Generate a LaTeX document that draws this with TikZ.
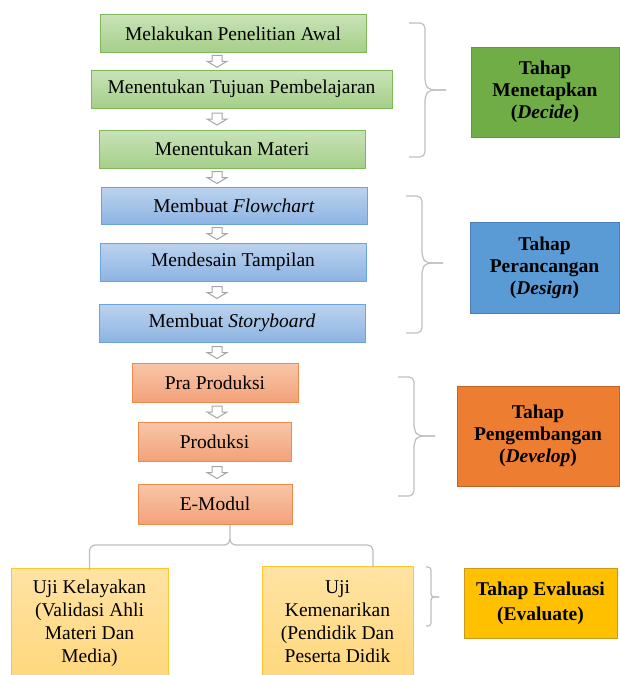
\documentclass[tikz,border=0pt]{standalone}
\usepackage{fontspec}
\setmainfont{Liberation Serif}
\begin{document}
\begin{tikzpicture}[x=1pt,y=-1pt,
  txt/.style={font=\fontsize{19.5}{23}\selectfont},
  stepbox/.style={txt, draw, line width=1pt, inner sep=0pt, minimum height=38pt},
  gbox/.style={stepbox, draw=grnB, top color=grnT, bottom color=grnD},
  bbox/.style={stepbox, draw=bluB, top color=bluT, bottom color=bluD},
  obox/.style={stepbox, draw=orgB, top color=orgT, bottom color=orgD},
  ybox/.style={draw=yelB, line width=1pt, top color=yelT, bottom color=yelD, inner sep=0pt},
  phase/.style={font=\fontsize{19.5}{22}\selectfont\bfseries, align=center, line width=1pt, inner sep=0pt},
  brace/.style={draw=braceC, line width=1.2pt, rounded corners=5pt},
  harr/.pic={\draw[arrC, fill=white, line width=1pt, line join=miter]
     (-5,-6) -- (5,-6) -- (5,0) -- (10,0) -- (0,6) -- (-10,0) -- (-5,0) -- cycle;}
]
\definecolor{grnB}{HTML}{7FB85A}
\definecolor{grnT}{HTML}{C9E3B8}
\definecolor{grnD}{HTML}{A5CF89}
\definecolor{bluB}{HTML}{6BA3DB}
\definecolor{bluT}{HTML}{BCD3EE}
\definecolor{bluD}{HTML}{8DB4E2}
\definecolor{orgB}{HTML}{EE8A4A}
\definecolor{orgT}{HTML}{F8C6A8}
\definecolor{orgD}{HTML}{F3A27A}
\definecolor{yelB}{HTML}{FFC62E}
\definecolor{yelT}{HTML}{FFE3A3}
\definecolor{yelD}{HTML}{FFD77A}
\definecolor{braceC}{HTML}{BFBFBF}
\definecolor{arrC}{HTML}{A6A6A6}
\definecolor{lineC}{HTML}{BDBDBD}
\definecolor{decF}{HTML}{70AD47}
\definecolor{decB}{HTML}{5E9A3A}
\definecolor{desF}{HTML}{5B9BD5}
\definecolor{desB}{HTML}{4A7FB5}
\definecolor{devF}{HTML}{ED7D31}
\definecolor{devB}{HTML}{C0622A}
\definecolor{evaF}{HTML}{FFC000}
\definecolor{evaB}{HTML}{C99A1A}

\useasboundingbox (0,0) rectangle (620,675);

% step boxes
\node[gbox, minimum width=266pt] (g1) at (233,33.5) {Melakukan Penelitian Awal};
\node[gbox, minimum width=301pt] (g2) at (241.5,89) {Menentukan Tujuan Pembelajaran};
\node[gbox, minimum width=266pt] (g3) at (232,149) {Menentukan Materi};
\node[bbox, minimum width=266pt, minimum height=37pt] (b1) at (234,205.5) {Membuat \textit{Flowchart}};
\node[bbox, minimum width=266pt] (b2) at (233,262) {Mendesain Tampilan};
\node[bbox, minimum width=266pt] (b3) at (232,323) {Membuat \textit{Storyboard}};
\node[obox, minimum width=166pt, minimum height=39pt] (o1) at (215,382.5) {Pra Produksi};
\node[obox, minimum width=153pt, minimum height=39pt] (o2) at (214.5,441.5) {Produksi};
\node[obox, minimum width=154pt, minimum height=40pt] (o3) at (215,504) {E-Modul};

% evaluation boxes (running off the bottom edge)
\node[ybox, minimum width=157pt, minimum height=120pt, anchor=north] (uk) at (89.5,568) {};
\node[ybox, minimum width=151pt, minimum height=122pt, anchor=north] (um) at (337.5,566) {};
\node[txt, align=center, anchor=north, inner sep=0pt] (ukt) at ([yshift=-12pt]uk.north)
  {Uji Kelayakan\\(Validasi Ahli\\Materi Dan\\Media)};
\node[txt, align=center, anchor=north, inner sep=0pt] (umt) at ([yshift=-14pt]um.north)
  {Uji\\Kemenarikan\\(Pendidik Dan\\Peserta Didik};

% hollow arrows
\coordinate (ax) at (217,0);
\foreach \a/\b in {g1/g2,g2/g3,g3/b1,b1/b2,b2/b3,b3/o1,o1/o2,o2/o3}{
  \path (\a.south) -- (\b.north) coordinate[midway] (m\a);
  \pic at (ax |- m\a) {harr};
}

% split connector
\draw[draw=lineC, line width=1.2pt, rounded corners=6pt]
  ([xshift=15pt]o3.south) -- ([xshift=15pt]o3.south |- 0,545) -- (uk.north |- 0,545) -- ([yshift=-2pt]uk.north);
\draw[draw=lineC, line width=1.2pt, rounded corners=6pt]
  ([xshift=15pt]o3.south |- 0,540) -- ([xshift=15pt]o3.south |- 0,545) -- ([xshift=35.5pt]um.north |- 0,545) -- ([xshift=35.5pt,yshift=-1pt]um.north);

% phase labels
\node[phase, draw=decB, fill=decF, minimum width=148pt, minimum height=90pt] (pd) at (545,92)
  {Tahap\\Menetapkan\\(\textit{Decide})};
\node[phase, draw=desB, fill=desF, minimum width=149pt, minimum height=91pt] (ps) at (544.5,267.5)
  {Tahap\\Perancangan\\(\textit{Design})};
\node[phase, draw=devB, fill=devF, minimum width=162pt, minimum height=100pt] (pv) at (538,436)
  {Tahap\\Pengembangan\\(\textit{Develop})};
\node[phase, draw=evaB, fill=evaF, minimum width=153pt, minimum height=70pt, font=\fontsize{19.5}{25}\selectfont\bfseries] (pe) at (540.5,603)
  {Tahap Evaluasi\\(Evaluate)};

% braces
\draw[brace] (409,23) -- (425,23) -- (425,84) -- (429,90) -- (446,90);
\draw[brace] (446,90) -- (429,90) -- (425,96) -- (425,157) -- (409,157);
\draw[brace] (406,196) -- (422,196) -- (422,257) -- (426,263) -- (443,263);
\draw[brace] (443,263) -- (426,263) -- (422,269) -- (422,333) -- (406,333);
\draw[brace] (398,377) -- (414,377) -- (414,430) -- (418,436) -- (435,436);
\draw[brace] (435,436) -- (418,436) -- (414,442) -- (414,496) -- (398,496);
\draw[brace, rounded corners=3pt] (426,567) -- (431,567) -- (431,597) -- (439,597);
\draw[brace, rounded corners=3pt] (439,597) -- (431,597) -- (431,626) -- (426,626);
\end{tikzpicture}
\end{document}
